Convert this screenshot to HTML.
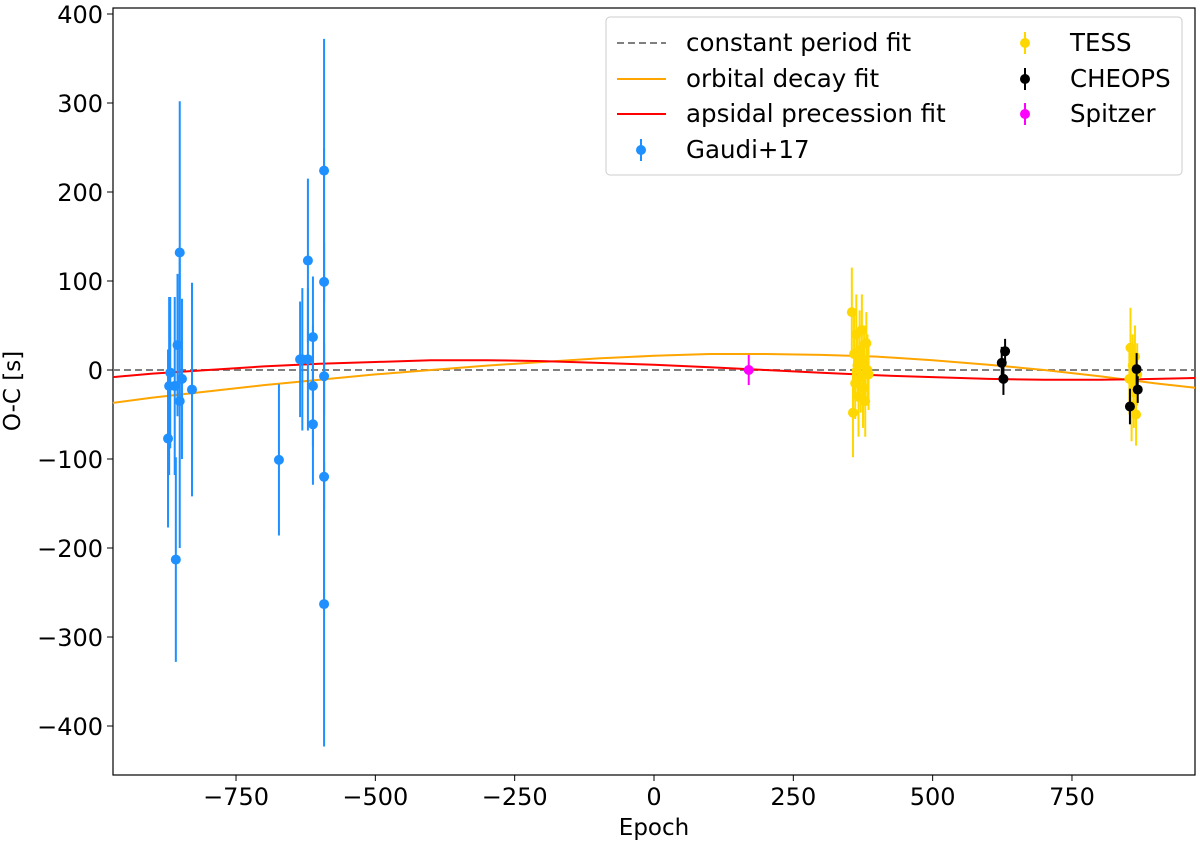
<!DOCTYPE html>
<html><head><meta charset="utf-8"><style>
html,body{margin:0;padding:0;background:#fff;}
svg text{font-family:"DejaVu Sans","Liberation Sans",sans-serif;}
</style></head><body>
<svg id="chart" width="1200" height="844" viewBox="0 0 1200 844">
<rect x="113" y="8" width="1082" height="767" fill="#fff" stroke="#000" stroke-width="1.2"/>
<g id="marks"></g>
<g id="axes"></g>
<text x="654" y="835" font-size="23" text-anchor="middle">Epoch</text>
<text transform="translate(20,391) rotate(-90)" font-size="23" text-anchor="middle">O-C [s]</text>
<g id="legend">
<rect x="606" y="17" width="576" height="158" rx="4" fill="#fff" fill-opacity="0.9" stroke="#ccc"/>
</g>
</svg>
<script>
const xTicks=[-750,-500,-250,0,250,500,750];
const yTicks=[-400,-300,-200,-100,0,100,200,300,400];
const gaudiE=[-872,-870,-868,-860,-858,-855,-851,-851,-847,-829,-673,-635,-631,-621,-621,-612,-612,-612,-592,-592,-592,-592,-592];
const gaudiV=[-77,-18,-3,-18,-213,28,132,-35,-10,-22,-101,12,12,123,12,37,-18,-61,224,99,-7,-120,-263];
const gaudiErr=[100,100,85,100,115,80,170,165,90,120,85,65,80,92,80,68,68,68,148,150,150,150,160];
const tessE=[355,357,359,361,363,365,367,369,371,373,375,377,379,381,383,385,853,855,857,859,861,863,865,867];
const tessV=[65,-48,18,-15,40,5,-30,22,-8,45,-20,10,-35,30,0,-5,-10,25,-40,5,-25,15,-50,-5];
const tessErr=[50,50,45,40,45,40,45,45,40,40,45,40,40,35,40,40,40,45,40,35,40,35,35,35];
const cheE=[624,627,630,854,866,868];
const cheV=[8,-10,21,-41,1,-22];
const cheErr=[18,18,14,20,18,15];
const spE=[170];const spV=[0];const spErr=[17];
const fitE=[-971,-900,-800,-700,-600,-500,-400,-300,-200,-100,0,100,200,300,400,500,600,700,800,900,971];
const decayV=[-37,-31,-24,-17,-11,-5,0,5,9,13,16,18,18,17,15,11,6,0,-7,-15,-20];
const apsV=[-8,-4,0,4,7,9,11,11,10,8,6,3,0,-3,-6,-8,-10,-11,-11,-10,-9];
const NS='http://www.w3.org/2000/svg';
const X=e=>654+e*0.5573, Y=v=>370-v*0.89;
function mk(t,a,p){const el=document.createElementNS(NS,t);for(const k in a)el.setAttribute(k,a[k]);(p||document.getElementById('marks')).appendChild(el);return el;}
const ax=document.getElementById('axes');
xTicks.forEach(t=>{mk('line',{x1:X(t),x2:X(t),y1:775,y2:781,stroke:'#000'},ax);
const tx=mk('text',{x:X(t),y:805,'font-size':24,'text-anchor':'middle'},ax);tx.textContent=t<0?'\u2212'+(-t):t;

});
yTicks.forEach(t=>{mk('line',{x1:107,x2:113,y1:Y(t),y2:Y(t),stroke:'#000'},ax);
const tx=mk('text',{x:103,y:Y(t)+9,'font-size':24,'text-anchor':'end'},ax);tx.textContent=t<0?'\u2212'+(-t):t;

});
const c=mk('line',{x1:113,x2:1195,y1:Y(0),y2:Y(0),stroke:'#808080','stroke-width':2,'stroke-dasharray':'7,4'});


function curve(vals,col,name){let d='';fitE.forEach((e,i)=>d+=(i?'L':'M')+X(e).toFixed(1)+','+Y(vals[i]).toFixed(1));
const p=mk('path',{d:d,fill:'none',stroke:col,'stroke-width':2,'stroke-linejoin':'round'});

}
curve(decayV,'#ffa500','orbital-decay-line');
curve(apsV,'#ff0000','apsidal-precession-line');
function series(E,V,Er,col,name){E.forEach((e,i)=>{const g=mk('g',{});


mk('line',{x1:X(e),x2:X(e),y1:Y(V[i]+Er[i]),y2:Y(V[i]-Er[i]),stroke:col,'stroke-width':2},g);
mk('circle',{cx:X(e),cy:Y(V[i]),r:5,fill:col},g);});}
series(gaudiE,gaudiV,gaudiErr,'#1e90ff','gaudi');
series(tessE,tessV,tessErr,'#ffd700','tess');
series(cheE,cheV,cheErr,'#000','cheops');
series(spE,spV,spErr,'#ff00ff','spitzer');
const lg=document.getElementById('legend');
function lt(x,y,s,n){const t=mk('text',{x:x,y:y,'font-size':24.5},lg);t.textContent=s;

}
mk('line',{x1:617,x2:666,y1:43,y2:43,stroke:'#808080','stroke-width':2,'stroke-dasharray':'7,4'},lg);
mk('line',{x1:617,x2:666,y1:79,y2:79,stroke:'#ffa500','stroke-width':2},lg);
mk('line',{x1:617,x2:666,y1:114,y2:114,stroke:'#ff0000','stroke-width':2},lg);
[[641,150,'#1e90ff'],[1025,43,'#ffd700'],[1025,79,'#000'],[1025,114,'#ff00ff']].forEach(a=>{
mk('line',{x1:a[0],x2:a[0],y1:a[1]-11,y2:a[1]+11,stroke:a[2],'stroke-width':2},lg);mk('circle',{cx:a[0],cy:a[1],r:5,fill:a[2]},lg);});
lt(686,51,'constant period fit','legend-constant');
lt(686,87,'orbital decay fit','legend-decay');
lt(686,122,'apsidal precession fit','legend-apsidal');
lt(686,158,'Gaudi+17','legend-gaudi');
lt(1070,51,'TESS','legend-tess');
lt(1070,87,'CHEOPS','legend-cheops');
lt(1070,122,'Spitzer','legend-spitzer');
</script>
</body></html>
